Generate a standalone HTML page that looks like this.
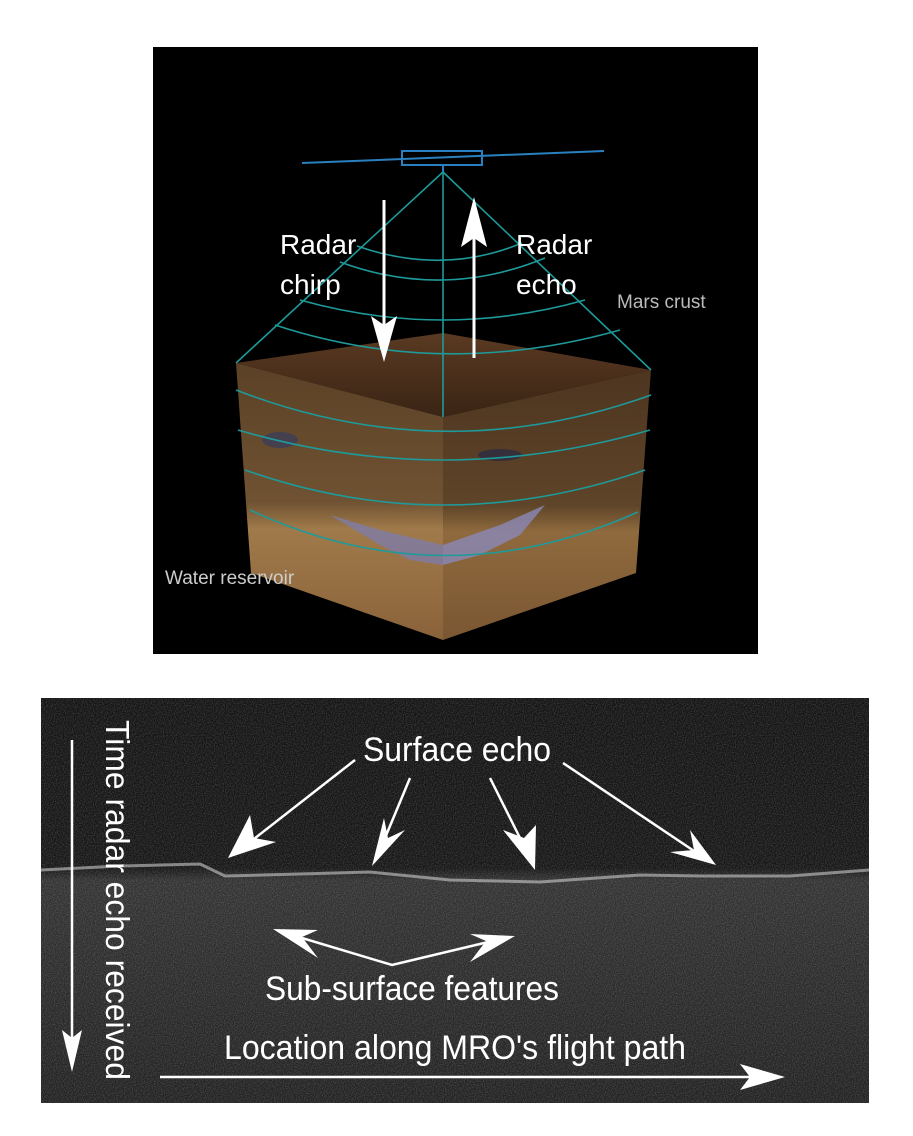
<!DOCTYPE html>
<html><head><meta charset="utf-8"><style>
html,body{margin:0;padding:0;background:#fff;}
svg{display:block}
text{font-family:"Liberation Sans",sans-serif;}
</style></head><body>
<svg width="913" height="1136" viewBox="0 0 913 1136" xmlns="http://www.w3.org/2000/svg">
<defs>
<filter id="noise" x="0" y="0" width="100%" height="100%">
<feTurbulence type="fractalNoise" baseFrequency="0.9" numOctaves="1" seed="3" result="n"/>
<feColorMatrix type="matrix" values="0 0 0 0 1  0 0 0 0 1  0 0 0 0 1  1.2 0 0 0 -0.45"/>
</filter>
<linearGradient id="top" x1="0" y1="0" x2="0" y2="1"><stop offset="0" stop-color="#5a3a22"/><stop offset="1" stop-color="#3a2414"/></linearGradient>
<linearGradient id="lf" x1="0" y1="0" x2="0" y2="1"><stop offset="0" stop-color="#5b4126"/><stop offset="0.5" stop-color="#6f5232"/><stop offset="0.6" stop-color="#a07a4a"/><stop offset="1" stop-color="#8a623a"/></linearGradient>
<linearGradient id="rf" x1="0" y1="0" x2="0" y2="1"><stop offset="0" stop-color="#4e3520"/><stop offset="0.5" stop-color="#5e4428"/><stop offset="0.6" stop-color="#8f6a3e"/><stop offset="1" stop-color="#7a5632"/></linearGradient>
<linearGradient id="bfade" x1="0" y1="0" x2="0" y2="1"><stop offset="0" stop-color="#141414"/><stop offset="0.42" stop-color="#171717"/><stop offset="0.45" stop-color="#333"/><stop offset="1" stop-color="#222"/></linearGradient>
</defs>
<rect x="153" y="47" width="605" height="607" fill="#000"/>
<polygon points="236,363 443,333 651,370 443,417" fill="url(#top)"/>
<polygon points="236,363 443,417 443,640 251,573" fill="url(#lf)"/>
<polygon points="443,417 651,370 636,573 443,640" fill="url(#rf)"/>
<polygon points="330,515 380,530 443,545 443,565 410,560 380,545" fill="#7f7ca8" opacity="0.8"/>
<polygon points="443,545 500,525 545,505 520,535 480,555 443,565" fill="#8a88b8" opacity="0.8"/>
<ellipse cx="280" cy="440" rx="18" ry="8" fill="#3c3d58" opacity="0.8"/>
<ellipse cx="500" cy="455" rx="22" ry="6" fill="#2c2c40" opacity="0.8"/>
<g stroke="#1e9a9a" stroke-width="1.6" fill="none">
<line x1="443" y1="172" x2="236" y2="363"/>
<line x1="443" y1="172" x2="651" y2="370"/>
<line x1="443" y1="172" x2="443" y2="417"/>
<path d="M357,246 Q443,276 522,243"/>
<path d="M340,262 Q443,300 545,258"/>
<path d="M300,300 Q443,340 585,300"/>
<path d="M275,325 Q443,380 620,330"/>
<path d="M236,390 Q443,470 651,395"/>
<path d="M238,430 Q443,490 650,430"/>
<path d="M245,470 Q443,540 645,470"/>
<path d="M250,510 Q443,600 638,512"/>
</g>
<g stroke="#2a7fc0" stroke-width="2" fill="none">
<line x1="302" y1="163" x2="604" y2="151"/>
<rect x="402" y="151" width="80" height="14"/>
<line x1="443" y1="165" x2="443" y2="172"/>
</g>
<g fill="#fff" stroke="#fff">
<line x1="384" y1="200" x2="384" y2="330" stroke-width="3"/>
<polygon points="371,316 384,362 397,316 384,325" stroke="none"/>
<line x1="474" y1="358" x2="474" y2="225" stroke-width="3"/>
<polygon points="461,247 474,197 487,247 474,238" stroke="none"/>
</g>
<text x="280" y="254" font-size="28" fill="#fff">Radar</text>
<text x="280" y="294" font-size="28" fill="#fff">chirp</text>
<text x="516" y="254" font-size="28" fill="#fff">Radar</text>
<text x="516" y="294" font-size="28" fill="#fff">echo</text>
<text x="617" y="308" font-size="19" fill="#bbb">Mars crust</text>
<text x="165" y="584" font-size="19" fill="#ccc">Water reservoir</text>
<rect x="41" y="698" width="828" height="405" fill="url(#bfade)"/>
<rect x="41" y="698" width="828" height="405" filter="url(#noise)" opacity="0.35"/>
<path d="M41,870 L120,866 L200,864 L225,876 L300,874 L370,872 L450,880 L540,882 L640,875 L700,876 L790,876 L869,870" stroke="#ccc" stroke-width="3" fill="none" opacity="0.6"/>
<g stroke="#fff" stroke-width="2.5" fill="#fff">
<line x1="72" y1="740" x2="72" y2="1040"/>
<polygon points="62,1030 72,1072 82,1030 72,1038" stroke="none"/>
<line x1="160" y1="1077" x2="760" y2="1077"/>
<polygon points="740,1064 785,1077 740,1090 750,1077" stroke="none"/>
<line x1="355" y1="760" x2="245" y2="846"/>
<polygon points="228,858 276,842 254,838 250,815" stroke="none"/>
<line x1="410" y1="778" x2="380" y2="850"/>
<polygon points="372,866 405,830 388,838 384,818" stroke="none"/>
<line x1="490" y1="778" x2="526" y2="850"/>
<polygon points="535,870 536,825 524,838 503,830" stroke="none"/>
<line x1="563" y1="763" x2="700" y2="855"/>
<polygon points="716,865 690,830 694,850 670,852" stroke="none"/>
<polyline points="282,932 392,965 505,938" fill="none"/>
<polygon points="273,929 318,930 302,937 318,958" stroke="none"/>
<polygon points="515,936 470,934 486,941 470,962" stroke="none"/>
</g>
<text x="457" y="761" font-size="34" fill="#fff" text-anchor="middle" textLength="188" lengthAdjust="spacingAndGlyphs">Surface echo</text>
<text x="412" y="1000" font-size="34" fill="#fff" text-anchor="middle" textLength="294" lengthAdjust="spacingAndGlyphs">Sub-surface features</text>
<text x="455" y="1059" font-size="34" fill="#fff" text-anchor="middle" textLength="462" lengthAdjust="spacingAndGlyphs">Location along MRO's flight path</text>
<text transform="translate(106,720) rotate(90)" font-size="33" fill="#fff" textLength="360" lengthAdjust="spacingAndGlyphs">Time radar echo received</text>
</svg>
</body></html>
